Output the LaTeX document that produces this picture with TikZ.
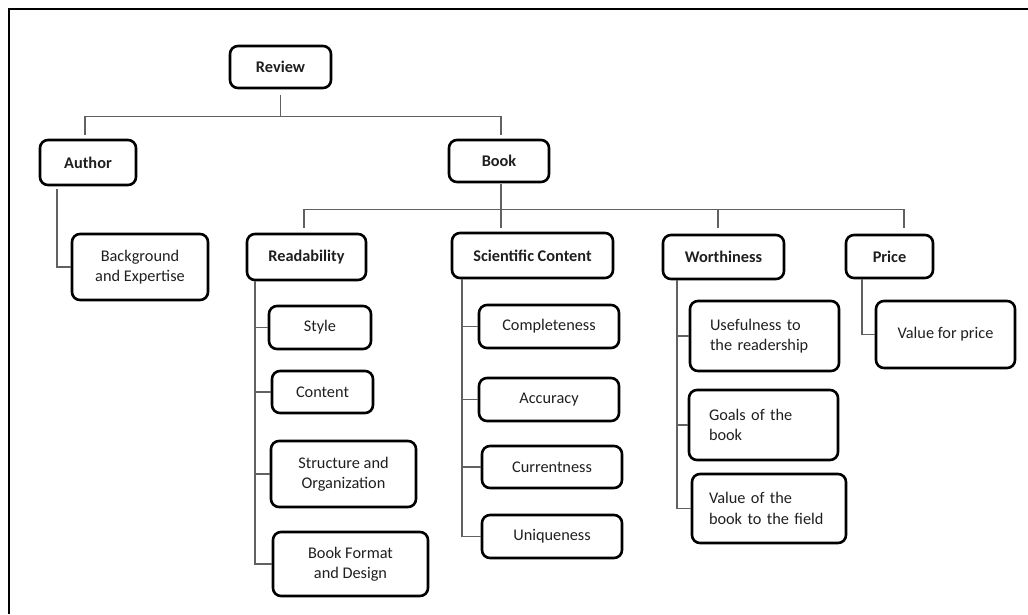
\documentclass[tikz,border=0pt]{standalone}
\usepackage{fontspec}
\setmainfont{Carlito}
\begin{document}
\begin{tikzpicture}[x=1pt,y=-1pt,
  box/.style={draw=black, line width=2.6pt, rounded corners=8pt, inner sep=0pt,
    align=center, text=black!88, font=\fontsize{16.3}{20.5}\selectfont},
  hbox/.style={box, font=\fontsize{16.3}{20.5}\selectfont\bfseries},
  conn/.style={draw=black!62, line width=1.4pt}]
\useasboundingbox (0,0) rectangle (1028,614);
\draw[line width=2.6pt] (1028,9) -| (9,614);

% level 0/1
\node[hbox, minimum width=101, minimum height=42] (review) at (280.5,67) {Review};
\node[hbox, minimum width=96, minimum height=45] (author) at (88,162.5) {Author};
\node[hbox, minimum width=100, minimum height=42] (book) at (499,161) {Book};
\node[box, minimum width=136, minimum height=66] (bg) at (140,267) {Background\\and Expertise};

% level 2
\node[hbox, minimum width=119, minimum height=46] (read) at (306.5,257) {Readability};
\node[hbox, minimum width=161, minimum height=45] (sci) at (532.5,255.5) {Scientific Content};
\node[hbox, minimum width=121, minimum height=44] (worth) at (723.5,257) {Worthiness};
\node[hbox, minimum width=87, minimum height=43] (price) at (889.5,256.5) {Price};

% readability children
\node[box, minimum width=102, minimum height=43] (style) at (320,327.5) {Style};
\node[box, minimum width=101, minimum height=42] (content) at (322.5,392) {Content};
\node[box, minimum width=145, minimum height=66] (struct) at (343.5,474) {Structure and\\Organization};
\node[box, minimum width=155, minimum height=64] (format) at (350.5,564) {Book Format\\and Design};

% scientific content children
\node[box, minimum width=140, minimum height=43] (compl) at (549,326.5) {Completeness};
\node[box, minimum width=140, minimum height=43] (accur) at (549,399.5) {Accuracy};
\node[box, minimum width=140, minimum height=42] (curr) at (552,467) {Currentness};
\node[box, minimum width=140, minimum height=43] (uniq) at (552,536.5) {Uniqueness};

% worthiness children
\node[box, align=left, text width=109, inner xsep=20pt, minimum width=149, minimum height=70] (useful) at (764.5,336) {Usefulness to\\the readership};
\node[box, align=left, text width=109, inner xsep=20pt, minimum width=149, minimum height=70] (goals) at (763.5,425) {Goals of the\\book};
\node[box, align=left, text width=120, inner xsep=17pt, minimum width=154, minimum height=69] (valfield) at (769,508.5) {Value of the\\book to the field};

% price child
\node[box, minimum width=139, minimum height=67] (vprice) at (945.5,334.5) {Value for price};

% connectors: review
\draw[conn] ([yshift=-6pt]review.south) -- ++(0,21) coordinate (j1);
\draw[conn] ([xshift=-3pt,yshift=4pt]author.north) |- (j1) -| ([xshift=2pt,yshift=4pt]book.north);
\draw[conn] ([xshift=-31pt,yshift=-3pt]author.south) |- (bg.west);

% connectors: book
\draw[conn] ([xshift=2pt,yshift=-1pt]book.south) -- ++(0,25) coordinate (j2);
\draw[conn] ([xshift=-2.5pt,yshift=5pt]read.north) |- (j2) -| ([xshift=180.5pt,yshift=6pt]worth.north);
\draw[conn] (j2) -- ([xshift=-31.5pt,yshift=4pt]sci.north);
\draw[conn] ([xshift=-5.5pt,yshift=6pt]worth.north) -- ([xshift=-5.5pt]worth.north |- j2);

% readability
\draw[conn] ([xshift=-51.5pt]read.south) |- (format.west);
\foreach \n in {style,content,struct}
  \draw[conn] ([xshift=-51.5pt]read.south) |- (\n.west);

% scientific content
\draw[conn] ([xshift=-70.5pt]sci.south) |- (uniq.west);
\foreach \n in {compl,accur,curr}
  \draw[conn] ([xshift=-70.5pt]sci.south) |- (\n.west);

% worthiness
\draw[conn] ([xshift=-46.5pt]worth.south) |- (valfield.west);
\foreach \n in {useful,goals}
  \draw[conn] ([xshift=-46.5pt]worth.south) |- (\n.west);

% price
\draw[conn] ([xshift=-27.5pt]price.south) |- (vprice.west);
\end{tikzpicture}
\end{document}
